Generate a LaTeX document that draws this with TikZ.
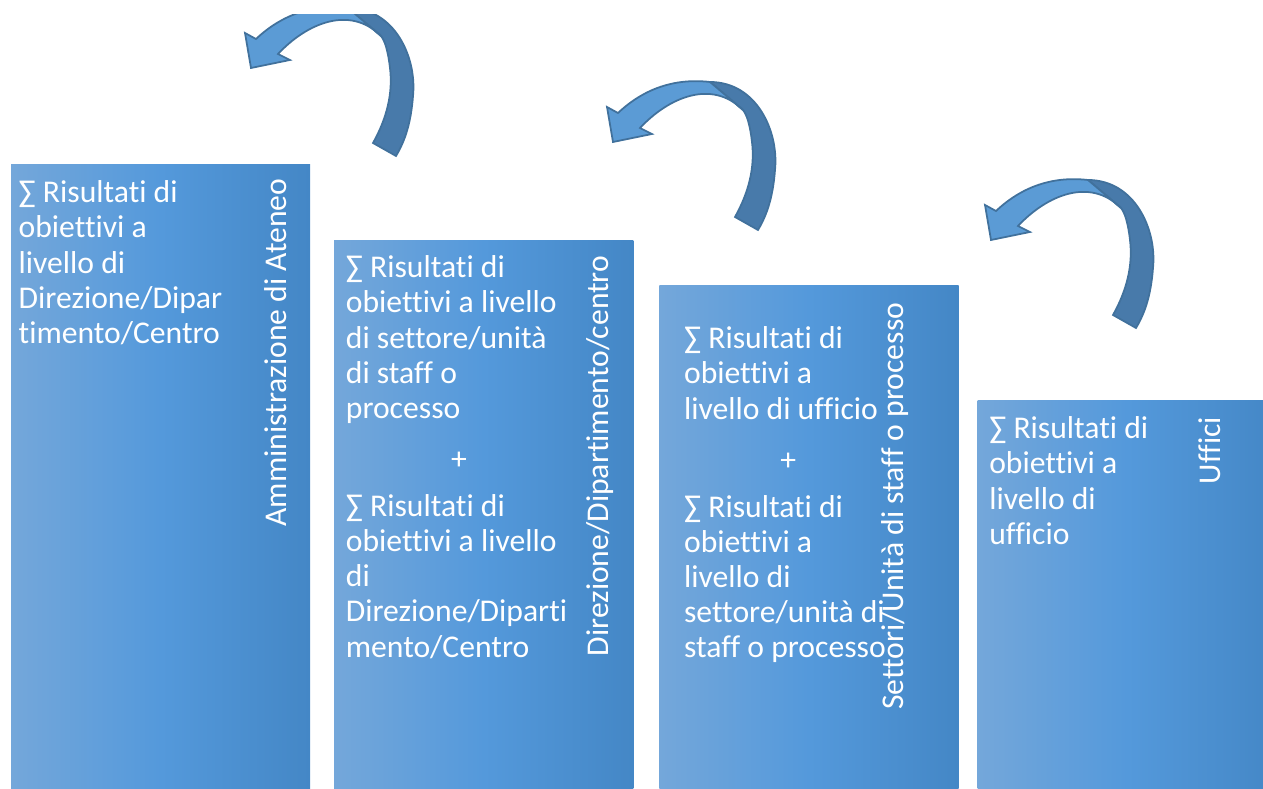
\documentclass[tikz,border=0pt]{standalone}
\usepackage{fontspec}
\setmainfont{Carlito}[Ligatures=NoCommon]
\usetikzlibrary{positioning,calc}
\definecolor{boxL}{RGB}{116,167,218}
\definecolor{boxM}{RGB}{84,153,219}
\definecolor{boxR}{RGB}{68,135,198}
\definecolor{arrFront}{RGB}{91,155,213}
\definecolor{arrBack}{RGB}{72,122,170}
\definecolor{arrLine}{RGB}{65,113,156}
\tikzset{
	level box/.style={anchor=north west, inner sep=0pt, outer sep=0pt,
		left color=boxL, right color=boxR, middle color=boxM,
		minimum width=2.99cm, minimum height=#1},
	box text/.style={anchor=north west, inner sep=0pt, text=white, align=left,
		font=\fontsize{9}{10}\selectfont},
	level name/.style={rotate=90, anchor=east, inner sep=0pt, text=white,
		font=\fontsize{9}{10}\selectfont},
	pics/curved arrow/.style={code={
		% back face of the ribbon
		\filldraw[fill=arrBack, draw=arrLine, line width=0.5pt]
			(103,-25) .. controls (150,-25) and (172,25) .. (168,63)
			.. controls (166,90) and (160,108) .. (151,123) -- (128,110)
			.. controls (142,85) and (148,60) .. (145,35)
			.. controls (143,18) and (140,8) .. (136,3) -- cycle;
		% front face with head
		\filldraw[fill=arrFront, draw=arrLine, line width=0.5pt]
			(0,0) -- (6,35) -- (45,27) -- (33,21)
			.. controls (62,-10) and (105,-28) .. (136,3) -- (103,-25)
			.. controls (60,-30) and (30,-12) .. (11,6) -- cycle;
	}}
}
\newcommand{\plusline}[1]{\makebox[#1]{+}}

\begin{document}
\begin{tikzpicture}[x=0.01cm, y=-0.01cm]
	\useasboundingbox (0,0) rectangle (1263,789);
	\node[level box=6.24cm] (ateneo) at (11,165) {};
	\node[level box=5.49cm, below right=0.75cm and 0.24cm of ateneo.north east] (direzione) {};
	\node[level box=5.04cm, below right=0.45cm and 0.26cm of direzione.north east] (settori) {};
	\node[level box=3.90cm, below right=1.15cm and 0.19cm of settori.north east] (uffici) {};

	\node[level name] (ateneoN) at ($(ateneo.north east)+(-35,13)$) {Amministrazione di Ateneo};
	\node[level name] (direzioneN) at ($(direzione.north east)+(-33,15)$) {Direzione/Dipartimento/centro};
	\node[level name] (settoriN) at ($(settori.north east)+(-63,17)$) {Settori/Unità di staff o processo};
	\node[level name] (ufficiN) at ($(uffici.north west)+(232,16)$) {Uffici};

	\node[box text] (ateneoT) at ($(ateneo.north west)+(7,15)$)
		{∑ Risultati di\\ obiettivi a\\ livello di\\ Direzione/Dipar\\ timento/Centro};
	\node[box text] (direzioneT) at ($(direzione.north west)+(11,15)$)
		{∑ Risultati di\\ obiettivi a livello\\ di settore/unità\\ di staff o\\ processo\\[4.5pt]
		 \plusline{2.26cm}\\[3.4pt]
		 ∑ Risultati di\\ obiettivi a livello\\ di\\ Direzione/Diparti\\ mento/Centro};
	\node[box text] (settoriT) at ($(settori.north west)+(24,41)$)
		{∑ Risultati di\\ obiettivi a\\ livello di ufficio\\[4.5pt]
		 \plusline{2.08cm}\\[3.4pt]
		 ∑ Risultati di\\ obiettivi a\\ livello di\\ settore/unità di\\ staff o processo};
	\node[box text] (ufficiT) at ($(uffici.north west)+(11,16)$)
		{∑ Risultati di\\ obiettivi a\\ livello di\\ ufficio};

	\begin{scope}
		\clip (0,15) rectangle (1263,789);
		\pic at (245,33) {curved arrow};
	\end{scope}
	\pic at (607,107) {curved arrow};
	\pic at (985,205) {curved arrow};
\end{tikzpicture}
\end{document}
